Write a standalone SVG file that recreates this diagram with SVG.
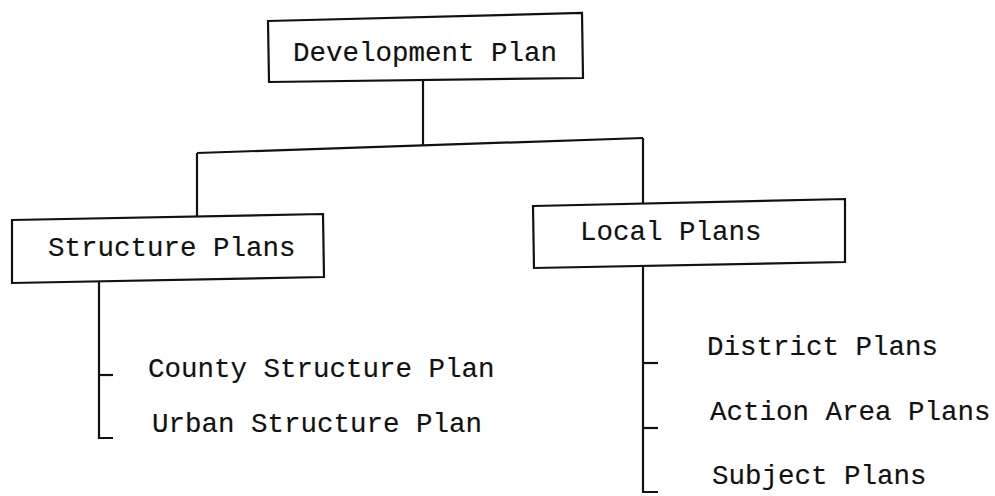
<svg xmlns="http://www.w3.org/2000/svg" width="995" height="496" viewBox="0 0 995 496">
<style>
.box{fill:#fff;stroke:#111;stroke-width:2.2;stroke-linejoin:miter}
.ln{fill:none;stroke:#111;stroke-width:2.2}
.t{font-family:"Liberation Mono","Courier New",monospace;font-size:27.5px;fill:#111;stroke:#111;stroke-width:0.15}
</style>
<rect width="995" height="496" fill="#fff"/>
<g id="connectors">
<path class="ln" d="M423,79 L423,145"/>
<path class="ln" d="M197,153 L643,138"/>
<path class="ln" d="M197,153 L197,218"/>
<path class="ln" d="M643,138 L643,204"/>
<path class="ln" d="M99,281 L99,438 L113,438"/>
<path class="ln" d="M99,375 L113,375"/>
<path class="ln" d="M643,266 L643,492 L658,492"/>
<path class="ln" d="M643,363 L658,363"/>
<path class="ln" d="M643,428 L658,428"/>
</g>
<g id="development-plan">
<path class="box" d="M268,21 L582,13 L583,78 L269,82 Z"/>
<text class="t" x="293" y="61">Development Plan</text>
</g>
<g id="structure-plans">
<path class="box" d="M12,220 L323,214 L324,277 L12,283 Z"/>
<text class="t" x="48" y="256">Structure Plans</text>
</g>
<g id="local-plans">
<path class="box" d="M533,206 L845,199 L845,262 L534,268 Z"/>
<text class="t" x="580" y="240">Local Plans</text>
</g>
<g id="county-structure-plan">
<text class="t" x="148" y="377">County Structure Plan</text>
</g>
<g id="urban-structure-plan">
<text class="t" x="152" y="432">Urban Structure Plan</text>
</g>
<g id="district-plans">
<text class="t" x="707" y="355">District Plans</text>
</g>
<g id="action-area-plans">
<text class="t" x="710" y="420">Action Area Plans</text>
</g>
<g id="subject-plans">
<text class="t" x="712" y="484">Subject Plans</text>
</g>
</svg>
